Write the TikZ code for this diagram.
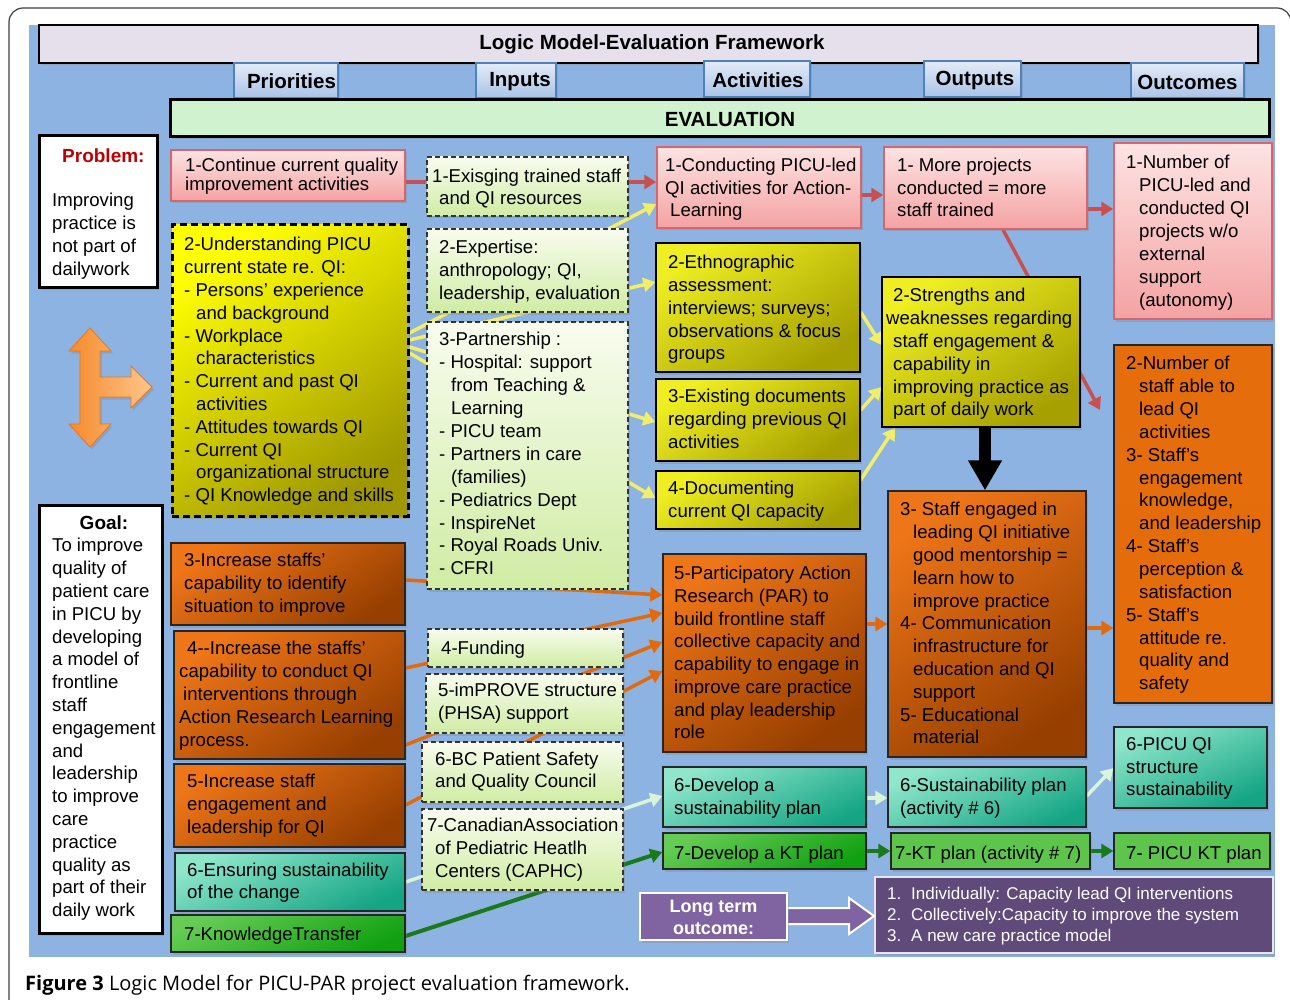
\documentclass[tikz,border=0pt]{standalone}
\usepackage{fontspec}
\setmainfont{Liberation Sans}
\newfontfamily\capfont{Open Sans}
\usetikzlibrary{arrows.meta,fit,shadows}
\pgfdeclarelayer{bottom}
\pgfdeclarelayer{background}
\pgfsetlayers{bottom,background,main}

\definecolor{bgblue}{HTML}{8DB3E2}
\definecolor{framec}{HTML}{404040}
\definecolor{lav}{HTML}{E5E0EC}
\definecolor{evalg}{HTML}{D0F2CE}
\definecolor{tabT}{HTML}{E3EBF7}
\definecolor{tabB}{HTML}{A9C3E8}
\definecolor{tabD}{HTML}{4F81BD}
\definecolor{pinkT}{HTML}{FDE3E3}
\definecolor{pinkB}{HTML}{F4A2A2}
\definecolor{pinkD}{HTML}{D8646C}
\definecolor{yelT}{HTML}{FFFF00}
\definecolor{yelM}{HTML}{EEEC00}
\definecolor{yelB}{HTML}{9F9800}
\definecolor{ylaT}{HTML}{EEEE22}
\definecolor{ylaM}{HTML}{DCDA16}
\definecolor{ylaB}{HTML}{A6A000}
\definecolor{orT}{HTML}{EE7518}
\definecolor{orM}{HTML}{D45F08}
\definecolor{orB}{HTML}{973F00}
\definecolor{orU}{HTML}{E46C0A}
\definecolor{teT}{HTML}{8FE6CB}
\definecolor{teB}{HTML}{14A584}
\definecolor{grT}{HTML}{66CC55}
\definecolor{grB}{HTML}{10A010}
\definecolor{grF}{HTML}{5DC54C}
\definecolor{inT}{HTML}{F8FCEE}
\definecolor{inB}{HTML}{D0ECA4}
\definecolor{ltpur}{HTML}{8064A2}
\definecolor{dkpur}{HTML}{5F4A7A}
\definecolor{arRed}{HTML}{C9504F}
\definecolor{arYel}{HTML}{F2EE6A}
\definecolor{arOr}{HTML}{E26A0C}
\definecolor{arMint}{HTML}{D8F5D8}
\definecolor{arGrn}{HTML}{1A7A1A}
\definecolor{probred}{HTML}{C00000}
\definecolor{crL}{HTML}{F58A2C}
\definecolor{crR}{HTML}{FFC68C}

\begin{document}
\begin{tikzpicture}[x=1pt,y=-1pt,
  shad/.style={drop shadow={opacity=0.3,shadow xshift=2pt,shadow yshift=-2.5pt}},
  boxbase/.style={rectangle,inner sep=0pt,line width=1.3pt,shad},
  pinkb/.style={boxbase,draw=pinkD,line width=1.5pt,top color=pinkT,bottom color=pinkB},
  yelbig/.style={boxbase,draw=black,line width=3pt,dash pattern=on 7pt off 4pt,top color=yelT,middle color=yelM,bottom color=yelB,shading angle=35},
  yelb/.style={boxbase,draw=black,top color=ylaT,middle color=ylaM,bottom color=ylaB,shading angle=35},
  orb/.style={boxbase,draw=black!85,top color=orT,middle color=orM,bottom color=orB,shading angle=35},
  orflat/.style={boxbase,draw=black!85,top color=orU!90!orT,bottom color=orU},
  teb/.style={boxbase,draw=black!85,top color=teT,bottom color=teB,shading angle=25},
  grb/.style={boxbase,draw=black!85,top color=grT,bottom color=grB,shading angle=25},
  grflat/.style={boxbase,draw=black!85,fill=grF},
  inb/.style={boxbase,draw=black!80,dash pattern=on 5pt off 3pt,top color=inT,bottom color=inB},
  tabb/.style={boxbase,draw=tabD,line width=1.2pt,top color=tabT,bottom color=tabB},
  wbox/.style={boxbase,draw=black,line width=3pt,fill=white},
  txt/.style={inner sep=0pt,align=left,anchor=west,yshift=-3.5pt,font=\fontsize{18.6}{#1}\selectfont,
     execute at begin node=\strut,execute at end node=\strut},
  txt/.default=22.8,
  hdr/.style={inner sep=0pt,font=\fontsize{20.5}{24}\selectfont\bfseries},
  tipa/.style={-{Triangle[length=12pt,width=14pt]}},
  redln/.style={draw=arRed,line width=4.5pt},
  yelln/.style={draw=arYel,line width=3.5pt,tipa},
  orgln/.style={draw=arOr,line width=3.5pt,tipa},
  mintln/.style={draw=arMint,line width=3.5pt,tipa},
  grnln/.style={draw=arGrn,line width=4pt,tipa}
]
\useasboundingbox (0,0) rectangle (1290,1000);
\begin{pgfonlayer}{bottom}
  \fill[white] (0,0) rectangle (1290,1000);
  \draw[framec,line width=1.2pt,rounded corners=14pt] (9,8) rectangle (1291,1015);
  \fill[bgblue] (29,25) rectangle (1275,957);
\end{pgfonlayer}

% ---------- headers ----------
\node[boxbase,draw=black,line width=1.5pt,fill=lav,fit={(39,25)(1258,63)}] (title) {};
\node[hdr] (titlet) at (652,44) {Logic Model-Evaluation Framework};
\node[tabb,fit={(234,63)(338,98)}] (tpri) {};
\node[hdr] (tprit) at (291.5,81) {Priorities};
\node[tabb,fit={(476,63)(556,98)}] (tinp) {};
\node[hdr] (tinpt) at (520,82) {Inputs};
\node[tabb,fit={(704,61)(810,97)}] (tact) {};
\node[hdr] (tactt) at (758,80) {Activities};
\node[tabb,fit={(924,61)(1021,97)}] (tout) {};
\node[hdr] (toutt) at (975,80) {Outputs};
\node[tabb,fit={(1131,63)(1244,98)}] (tocm) {};
\node[hdr] (tocmt) at (1187.5,82) {Outcomes};
\node[boxbase,draw=black,line width=3pt,fill=evalg,fit={(170,100)(1269,137)}] (eval) {};
\node[hdr] (evalt) at (730,119) {EVALUATION};

% ---------- problem / goal ----------
\node[wbox,fit={(39,136)(157,288)}] (prob) {};
\node[inner sep=0pt,anchor=west,font=\fontsize{19}{22}\selectfont\bfseries,text=probred] (probh) at (62,155.5) {Problem:};
\node[txt=23] (probt) at (52,234.5) {Improving\\practice is\\not part of\\dailywork};
\node[wbox,fit={(39,505)(162,933)}] (goal) {};
\node[inner sep=0pt,font=\fontsize{19}{22}\selectfont\bfseries] (goalh) at (104,522.5) {Goal:};
\node[txt=22.81] (goalt) at (52,727.5) {To improve\\quality of\\patient care\\in PICU by\\developing\\a model of\\frontline\\staff\\engagement\\and\\leadership\\to improve\\care\\practice\\quality as\\part of their\\daily work};

% orange cross arrow
\path[draw=orT,line width=0.8pt,left color=crL,right color=crR,shad]
  (90,328) -- (111,351) -- (100,351) -- (100,377) -- (131,377) -- (131,366) -- (152,387)
  -- (131,408) -- (131,397) -- (100,397) -- (100,424) -- (111,424) -- (90,447)
  -- (69,424) -- (80,424) -- (80,351) -- (69,351) -- cycle;

% ---------- priorities ----------
\node[pinkb,fit={(171,150)(405,201)}] (p1) {};
\node[txt=19] (p1t) at (185,173.5) {1-Continue current quality\\improvement activities};
\node[yelbig,fit={(172,225)(408,516)}] (p2) {};
\node[txt] (p2t) at (184,369.5) {2-Understanding PICU\\current state re. QI:\\- Persons’ experience\\\hspace*{12pt}and background\\- Workplace\\\hspace*{12pt}characteristics\\- Current and past QI\\\hspace*{12pt}activities\\- Attitudes towards QI\\- Current QI\\\hspace*{12pt}organizational structure\\- QI Knowledge and skills};
\node[orb,fit={(171,543)(405,625)}] (p3) {};
\node[txt=23] (p3t) at (184,583) {3-Increase staffs’\\capability to identify\\situation to improve};
\node[orb,fit={(174,631)(405,759)}] (p4) {};
\node[txt=23] (p4t) at (179,694) {\hspace*{8pt}4-{}-Increase the staffs’\\capability to conduct QI\\\hspace*{4pt}interventions through\\Action Research Learning\\process.};
\node[orb,fit={(174,764)(405,847)}] (p5) {};
\node[txt=23] (p5t) at (187,804) {5-Increase staff\\engagement and\\leadership for QI};
\node[teb,fit={(175,853)(405,911)}] (p6) {};
\node[txt=22] (p6t) at (187,881) {6-Ensuring sustainability\\of the change};
\node[grb,fit={(171,915)(405,952)}] (p7) {};
\node[txt] (p7t) at (184,932) {7-KnowledgeTransfer};

% ---------- inputs ----------
\node[inb,fit={(427,157)(628,216)}] (i1) {};
\node[txt=22] (i1t) at (432,187) {1-Exisging trained staff\\\hspace*{7pt}and QI resources};
\node[inb,fit={(427,229)(628,312)}] (i2) {};
\node[txt=23] (i2t) at (439,270) {2-Expertise:\\anthropology; QI,\\leadership, evaluation};
\node[inb,fit={(427,322)(628,589)}] (i3) {};
\node[txt=22.9] (i3t) at (439,453.5) {3-Partnership :\\- Hospital: support\\\hspace*{12pt}from Teaching \&\\\hspace*{12pt}Learning\\- PICU team\\- Partners in care\\\hspace*{12pt}(families)\\- Pediatrics Dept\\- InspireNet\\- Royal Roads Univ.\\- CFRI};
\node[inb,fit={(428,629)(623,667)}] (i4) {};
\node[txt] (i4t) at (441,646) {4-Funding};
\node[inb,fit={(426,674)(623,733)}] (i5) {};
\node[txt=23] (i5t) at (438,701.5) {5-imPROVE structure\\(PHSA) support};
\node[inb,fit={(422,742)(623,802)}] (i6) {};
\node[txt=22] (i6t) at (435,770) {6-BC Patient Safety\\and Quality Council};
\node[inb,fit={(422,809)(623,890)}] (i7) {};
\node[txt=23] (i7t) at (427,848) {7-CanadianAssociation\\\hspace*{8pt}of Pediatric Heatlh\\\hspace*{8pt}Centers (CAPHC)};

% ---------- activities ----------
\node[pinkb,fit={(657,147)(861,228)}] (a1) {};
\node[txt=22.5] (a1t) at (665,187.5) {1-Conducting PICU-led\\QI activities for Action-\\\hspace*{5pt}Learning};
\node[yelb,fit={(656,243)(860,372)}] (a2) {};
\node[txt] (a2t) at (668,307.5) {2-Ethnographic\\assessment:\\interviews; surveys;\\observations \& focus\\groups};
\node[yelb,fit={(656,379)(860,461)}] (a3) {};
\node[txt=23] (a3t) at (668,419) {3-Existing documents\\regarding previous QI\\activities};
\node[yelb,fit={(656,471)(860,529)}] (a4) {};
\node[txt=23] (a4t) at (668,499.5) {4-Documenting\\current QI capacity};
\node[orb,fit={(663,554)(866,752)}] (a5) {};
\node[txt=22.7] (a5t) at (674,652.5) {5-Participatory Action\\Research (PAR) to\\build frontline staff\\collective capacity and\\capability to engage in\\improve care practice\\and play leadership\\role};
\node[teb,fit={(663,767)(866,827)}] (a6) {};
\node[txt=23] (a6t) at (674,796.5) {6-Develop a\\sustainability plan};
\node[grb,fit={(663,833)(866,869)}] (a7) {};
\node[txt] (a7t) at (674,851) {7-Develop a KT plan};

% ---------- outputs ----------
\node[pinkb,fit={(884,147)(1087,229)}] (o1) {};
\node[txt=22.5] (o1t) at (897,187.5) {1- More projects\\conducted = more\\staff trained};
\node[yelb,fit={(882,277)(1080,427)}] (o2) {};
\node[txt=22.8] (o2t) at (886,352) {\hspace*{7pt}2-Strengths and\\weaknesses regarding\\\hspace*{7pt}staff engagement \&\\\hspace*{7pt}capability in\\\hspace*{7pt}improving practice as\\\hspace*{7pt}part of daily work};
\node[orb,fit={(888,491)(1086,757)}] (o3) {};
\node[txt=22.8] (o3t) at (900,623) {3- Staff engaged in\\\hspace*{13pt}leading QI initiative\\\hspace*{13pt}good mentorship =\\\hspace*{13pt}learn how to\\\hspace*{13pt}improve practice\\4- Communication\\\hspace*{13pt}infrastructure for\\\hspace*{13pt}education and QI\\\hspace*{13pt}support\\5- Educational\\\hspace*{13pt}material};
\node[teb,fit={(888,767)(1086,827)}] (o6) {};
\node[txt=23] (o6t) at (900,796.5) {6-Sustainability plan\\(activity \# 6)};
\node[grflat,fit={(891,833)(1090,869)}] (o7) {};
\node[txt] (o7t) at (895,851) {7-KT plan (activity \# 7)};

% ---------- outcomes ----------
\node[pinkb,fit={(1114,143)(1272,319)}] (u1) {};
\node[txt=23] (u1t) at (1126,231) {1-Number of\\\hspace*{13pt}PICU-led and\\\hspace*{13pt}conducted QI\\\hspace*{13pt}projects w/o\\\hspace*{13pt}external\\\hspace*{13pt}support\\\hspace*{13pt}(autonomy)};
\node[orflat,fit={(1114,345)(1272,703)}] (u2) {};
\node[txt=22.85] (u2t) at (1126,523) {2-Number of\\\hspace*{13pt}staff able to\\\hspace*{13pt}lead QI\\\hspace*{13pt}activities\\3- Staff’s\\\hspace*{13pt}engagement\\\hspace*{13pt}knowledge,\\\hspace*{13pt}and leadership\\4- Staff’s\\\hspace*{13pt}perception \&\\\hspace*{13pt}satisfaction\\5- Staff’s\\\hspace*{13pt}attitude re.\\\hspace*{13pt}quality and\\\hspace*{13pt}safety};
\node[teb,fit={(1114,727)(1267,808)}] (u6) {};
\node[txt=22.5] (u6t) at (1126,766.5) {6-PICU QI\\structure\\sustainability};
\node[grflat,fit={(1114,833)(1270,869)}] (u7) {};
\node[txt] (u7t) at (1126,851) {7- PICU KT plan};

% ---------- long term outcome ----------
\node[boxbase,draw=white,line width=2.5pt,fill=ltpur,fit={(640,893)(787,940)}] (lt) {};
\node[inner sep=0pt,align=center,text=white,font=\fontsize{18}{22}\selectfont\bfseries] (ltt) at ([yshift=-1pt]lt.center) {Long term\\outcome:};
\node[boxbase,draw=white!85!dkpur,line width=2pt,fill=dkpur,fit={(875,877)(1273,953)}] (ltb) {};
\node[txt=21,text=white,font=\fontsize{17}{21}\selectfont] (ltbt) at (887,914) {\makebox[24pt][l]{1.}Individually: Capacity lead QI interventions\\\makebox[24pt][l]{2.}Collectively:Capacity to improve the system\\\makebox[24pt][l]{3.}A new care practice model};
\path[fill=ltpur,draw=white,line width=2pt]
  (lt.east |- 0,908) -- (849,908) -- (849,898) -- (ltb.west |- 0,916) -- (849,934) -- (849,924) -- (lt.east |- 0,924);

% black arrow
\draw[line width=12pt,-{Triangle[length=30pt,width=32pt]}] ([xshift=4pt]o2.south) -- ([xshift=4pt]o2.south |- o3.north);

% ---------- connectors ----------
\coordinate (u2in) at (1100,410);
\begin{pgfonlayer}{background}
  \draw[redln] (p1.east |- 0,182) -- (i1.west |- 0,182);
  \draw[redln,tipa] (i1.east |- 0,182) -- (a1.west |- 0,182);
  \draw[redln,tipa] (a1.east |- 0,195) -- (o1.west |- 0,195);
  \draw[redln,tipa] (o1.east |- 0,209) -- (u1.west |- 0,209);
  \draw[redln,line width=3.5pt,tipa] (o1.south -| 1003,0) -- (u2in);
  \draw[yelln] (p2.east |- 0,333) -- (a1.west |- 0,204);
  \draw[yelln] (p2.east |- 0,340) -- (a2.west |- 0,282);
  \draw[yelln] (p2.east |- 0,347) -- (a3.west |- 0,422);
  \draw[yelln] (p2.east |- 0,353) -- (a4.west |- 0,498);
  \draw[yelln] (a2.east |- 0,312) -- (o2.west |- 0,345);
  \draw[yelln] (a3.east |- 0,410) -- (o2.west |- 0,387);
  \draw[yelln] (a4.east |- 0,480) -- (o2.south -| 895,0);
  \draw[orgln] (p3.east |- 0,580) -- (a5.west |- 0,595);
  \draw[orgln] (p4.east |- 0,668) -- (a5.west |- 0,613);
  \draw[orgln] (p4.east |- 0,745) -- (a5.west |- 0,642);
  \draw[orgln] (p5.east |- 0,805) -- (a5.west |- 0,671);
  \draw[orgln] (a5.east |- 0,624) -- (o3.west |- 0,624);
  \draw[orgln] (o3.east |- 0,628) -- (u2.west |- 0,628);
  \draw[mintln] (p6.east |- 0,882) -- (a6.west |- 0,796);
  \draw[mintln] (a6.east |- 0,798) -- (o6.west |- 0,798);
  \draw[mintln] (o6.east |- 0,796) -- (u6.west |- 0,768);
  \draw[grnln] (p7.east |- 0,936) -- (a7.west |- 0,852);
  \draw[grnln] (a7.east |- 0,851) -- (o7.west |- 0,851);
  \draw[grnln] (o7.east |- 0,851) -- (u7.west |- 0,851);
\end{pgfonlayer}

% caption
\node[anchor=base west,inner sep=0pt,font=\capfont\fontsize{20}{24}\selectfont] (cap) at (25,990) {\textbf{Figure 3} Logic Model for PICU-PAR project evaluation framework.};
\end{tikzpicture}
\end{document}
